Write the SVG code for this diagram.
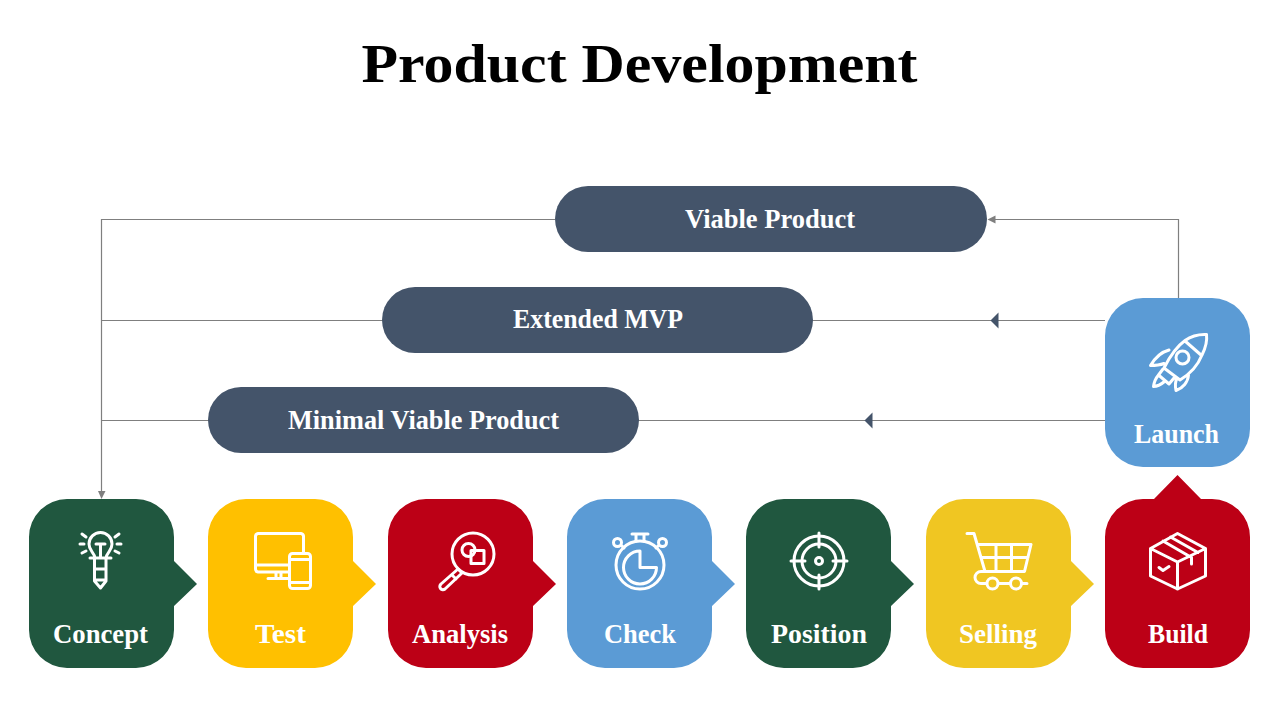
<svg xmlns="http://www.w3.org/2000/svg" width="1280" height="720" viewBox="0 0 1280 720">
<style>
text{font-family:"Liberation Serif",serif;font-weight:700;text-anchor:middle}
.lbl{font-size:27px;fill:#fff}
.conn{fill:none;stroke:#7f7f7f;stroke-width:1.2}
.ic{fill:none;stroke:#fff;stroke-width:3;stroke-linecap:round;stroke-linejoin:round}
.pill{fill:#44546a}
</style>
<defs>
<path id="box" d="M38 0H107A38 38 0 0 1 145 38V62L168 85L145 107V131A38 38 0 0 1 107 169H38A38 38 0 0 1 0 131V38A38 38 0 0 1 38 0Z"/>
</defs>
<rect width="1280" height="720" fill="#fff"/>
<text id="title" x="639.5" y="82" font-size="54" textLength="556" lengthAdjust="spacingAndGlyphs">Product Development</text>

<g id="connectors">
<path class="conn" d="M555 219.500H101.500V492"/>
<path d="M98 491H105.500L101.500 499Z" fill="#7f7f7f"/>
<path class="conn" d="M1178.500 298V219.500H995"/>
<path d="M995.500 215.500V223.500L987.500 219.500Z" fill="#7f7f7f"/>
<path class="conn" d="M1105 320.500H101.500"/>
<path d="M998.500 312.500V328.500L990.500 320.500Z" fill="#44546a"/>
<path class="conn" d="M1105 420.500H101.500"/>
<path d="M872.500 412.500V428.500L864.500 420.500Z" fill="#44546a"/>
</g>

<g id="viable-product"><rect class="pill" x="555" y="186" width="432" height="66" rx="33"/><text class="lbl" x="770" y="228" textLength="170" lengthAdjust="spacingAndGlyphs">Viable Product</text></g>
<g id="extended-mvp"><rect class="pill" x="382" y="287" width="431" height="66" rx="33"/><text class="lbl" x="598" y="328" textLength="170" lengthAdjust="spacingAndGlyphs">Extended MVP</text></g>
<g id="minimal-viable-product"><rect class="pill" x="208" y="387" width="431" height="66" rx="33"/><text class="lbl" x="423.500" y="429" textLength="271" lengthAdjust="spacingAndGlyphs">Minimal Viable Product</text></g>

<g id="concept">
<use href="#box" x="29" y="499" fill="#20573f"/>
<path class="ic" d="M95 558C94 552 89 551 89 544A11.500 11.500 0 0 1 112 544C112 551 107 552 106 558M90 558H111M94.500 558V581L100.500 588L106 581V558M94.500 569H106M94.500 580H106M96 544H105M100.500 544V558M80 544H84M117 544H121M82 534L86 537M115 537L119 534M82 553L86 551M115 551L119 553"/>
<text class="lbl" x="100.500" y="643" textLength="95" lengthAdjust="spacingAndGlyphs">Concept</text>
</g>
<g id="test">
<use href="#box" x="208" y="499" fill="#ffc000"/>
<path class="ic" d="M289 572H258A3 3 0 0 1 255.500 569V536A3 3 0 0 1 258 533.500H301A3 3 0 0 1 303.500 536V553M255.500 565H289M268 578.500H289M276 572V578M281 572V578"/>
<rect class="ic" x="289.500" y="553.500" width="21" height="35" rx="3"/>
<path class="ic" d="M289.500 559.500H310.500M289.500 582.500H310.500"/>
<text class="lbl" x="280.500" y="643" textLength="51" lengthAdjust="spacingAndGlyphs">Test</text>
</g>
<g id="analysis">
<use href="#box" x="388" y="499" fill="#bc0016"/>
<circle class="ic" cx="473" cy="554" r="21"/>
<circle class="ic" cx="468.500" cy="550" r="6.500"/>
<path class="ic" d="M471 550.500H484V563.500H471Z"/>
<path class="ic" d="M458 569L441 584A3 3 0 0 0 445 589L462 573L458 569ZM452 575L456 579"/>
<text class="lbl" x="460" y="643" textLength="96" lengthAdjust="spacingAndGlyphs">Analysis</text>
</g>
<g id="check">
<use href="#box" x="567" y="499" fill="#5b9bd5"/>
<circle class="ic" cx="640" cy="565" r="24"/>
<path class="ic" d="M640 551A16.500 16.500 0 1 0 656.500 567.500H640Z"/>
<path class="ic" d="M632 534H648M636 534V541M644 534V541M622 546L624 548M658 546L656 548"/>
<circle class="ic" cx="617.500" cy="542.500" r="4"/>
<circle class="ic" cx="662.500" cy="542.500" r="4"/>
<text class="lbl" x="640" y="643" textLength="72" lengthAdjust="spacingAndGlyphs">Check</text>
</g>
<g id="position">
<use href="#box" x="746" y="499" fill="#20573f"/>
<circle class="ic" cx="819" cy="561" r="25"/>
<circle class="ic" cx="819" cy="561" r="17"/>
<circle class="ic" cx="819" cy="561" r="3.500"/>
<path class="ic" d="M819 533V547M819 575V589M791 561H805M833 561H847"/>
<text class="lbl" x="819" y="643" textLength="96" lengthAdjust="spacingAndGlyphs">Position</text>
</g>
<g id="selling">
<use href="#box" x="926" y="499" fill="#f0c622"/>
<path class="ic" d="M967 533.500H974L985 571.500H1024.500L1031 544.500H978M982 557.500H1028M996 544.500V571.500M1011.500 544.500V571.500M985 571.500H981A6 6 0 0 0 981 583.500H986M998.500 583.500H1010M1022 583.500H1027"/>
<circle class="ic" cx="992.500" cy="583.500" r="5.500"/>
<circle class="ic" cx="1016" cy="583.500" r="5.500"/>
<text class="lbl" x="998" y="643" textLength="78" lengthAdjust="spacingAndGlyphs">Selling</text>
</g>
<g id="build">
<path d="M1143 499H1154L1177.500 475L1201 499H1212A38 38 0 0 1 1250 537V630A38 38 0 0 1 1212 668H1143A38 38 0 0 1 1105 630V537A38 38 0 0 1 1143 499Z" fill="#bc0016"/>
<path class="ic" d="M1177.500 533.500L1150.500 548.500V576L1177.500 589L1205.500 576V548.500ZM1150.500 548.500L1177.500 562L1205.500 548.500M1177.500 562V589M1163 541L1191.500 557.500V564M1170.500 537L1198 552.500M1159 567.500L1163 570.500L1169 566.500"/>
<text class="lbl" x="1178" y="643" textLength="60" lengthAdjust="spacingAndGlyphs">Build</text>
</g>
<g id="launch">
<rect x="1105" y="298" width="145" height="169" rx="38" fill="#5b9bd5"/>
<path class="ic" d="M1206.500 334.500C1197 334 1190 337 1185 340.500C1176 347 1169 358 1164 368L1180 380C1190 374 1198 365 1202 355C1205 349 1207.500 342 1206.500 334.500ZM1185 341L1201 355M1169 350C1161 352 1155 358 1150.500 365.500C1155 365.500 1160 365 1164 363.500M1188.500 375C1188 382 1183 388 1176 390.500C1175 386 1175 382 1177 378M1163 369L1158.500 375L1169 384L1174 378M1158.500 375C1155 379 1154 383 1153.500 386.500C1157 386.500 1161 384.500 1164.500 381.500"/>
<circle class="ic" cx="1182.500" cy="357.500" r="6.500"/>
<text class="lbl" x="1176.500" y="443" textLength="85" lengthAdjust="spacingAndGlyphs">Launch</text>
</g>
</svg>
